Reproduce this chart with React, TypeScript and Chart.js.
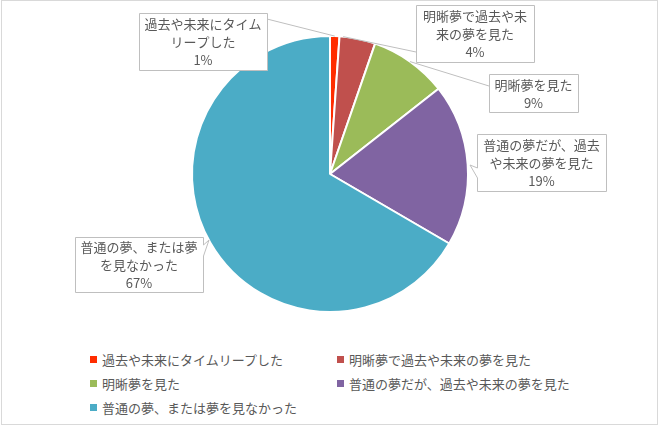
import { useEffect, useRef } from "react";
import { Chart, registerables } from "chart.js";

Chart.register(...registerables);

// categorias e valores (%)
const categories = [
  "過去や未来にタイムリープした",
  "明晰夢で過去や未来の夢を見た",
  "明晰夢を見た",
  "普通の夢だが、過去や未来の夢を見た",
  "普通の夢、または夢を見なかった",
];
const values = [1.1, 4.2, 9.1, 19.0, 66.6];
const colors = ["#FF2D00", "#C0504D", "#9BBB59", "#8064A2", "#4BACC6"];
// quebras de linha das etiquetas
const labelLines = [
  ["過去や未来にタイム", "リープした"],
  ["明晰夢で過去や未", "来の夢を見た"],
  ["明晰夢を見た"],
  ["普通の夢だが、過去", "や未来の夢を見た"],
  ["普通の夢、または夢", "を見なかった"],
];

const FONT = '"Noto Sans CJK JP", "Noto Sans", sans-serif';
const TEXT = "#595959";

// caixas das etiquetas (coordenadas do canvas)
const boxes = [
  { x: 139, y: 13, w: 128, h: 57, kind: "line", ax: 267, ay: 19, frac: 0.5 },
  { x: 416, y: 5, w: 118, h: 57, kind: "line", ax: 416, ay: 52, frac: 0.1 },
  { x: 489, y: 74, w: 89, h: 38, kind: "line", ax: 489, ay: 86, frac: 0.5 },
  { x: 477, y: 134, w: 129, h: 57, kind: "left", tx: 470, ty: 165, b1: 168, b2: 178 },
  { x: 75, y: 237, w: 128, h: 55, kind: "right", tx: 209, ty: 240, b1: 245, b2: 256 },
];

const calloutPlugin = {
  id: "callouts",
  afterDatasetsDraw(chart: any) {
    const ctx = chart.ctx;
    const meta = chart.getDatasetMeta(0);
    const total = values.reduce((a, b) => a + b, 0);
    ctx.save();
    ctx.strokeStyle = "#BFBFBF";
    ctx.lineWidth = 1;
    boxes.forEach((b: any, i) => {
      const arc = meta.data[i];
      // linha guia
      if (b.kind === "line") {
        const ang = arc.startAngle + (arc.endAngle - arc.startAngle) * b.frac;
        const px = arc.x + Math.cos(ang) * arc.outerRadius;
        const py = arc.y + Math.sin(ang) * arc.outerRadius;
        ctx.beginPath();
        ctx.moveTo(px, py);
        ctx.lineTo(b.ax, b.ay);
        ctx.stroke();
      }
      // caixa
      ctx.fillStyle = "#FFFFFF";
      ctx.beginPath();
      const x0 = b.x + 0.5, y0 = b.y + 0.5, x1 = b.x + b.w + 0.5, y1 = b.y + b.h + 0.5;
      ctx.moveTo(x0, y0);
      ctx.lineTo(x1, y0);
      if (b.kind === "right") {
        ctx.lineTo(x1, b.b1);
        ctx.lineTo(b.tx, b.ty);
        ctx.lineTo(x1, b.b2);
      }
      ctx.lineTo(x1, y1);
      ctx.lineTo(x0, y1);
      if (b.kind === "left") {
        ctx.lineTo(x0, b.b2);
        ctx.lineTo(b.tx, b.ty);
        ctx.lineTo(x0, b.b1);
      }
      ctx.closePath();
      ctx.fill();
      ctx.stroke();
      // texto
      const lines = [...labelLines[i], Math.round((values[i] / total) * 100) + "%"];
      const lh = 18;
      ctx.fillStyle = TEXT;
      ctx.font = "13px " + FONT;
      ctx.textAlign = "center";
      ctx.textBaseline = "middle";
      const startY = b.y + (b.h - lines.length * lh) / 2 + lh / 2 + 1;
      lines.forEach((t, j) => ctx.fillText(t, b.x + b.w / 2, startY + j * lh));
    });
    ctx.restore();
  },
};

const legendPos = [
  { x: 90, y: 359 },
  { x: 337, y: 359 },
  { x: 90, y: 383 },
  { x: 337, y: 383 },
  { x: 90, y: 407 },
];

export default function App() {
  const chartRef = useRef<HTMLCanvasElement | null>(null);
  const chartInstanceRef = useRef<Chart | null>(null);

  useEffect(() => {
    document.body.style.margin = "0";
    if (chartInstanceRef.current) chartInstanceRef.current.destroy();
    if (chartRef.current) {
      chartInstanceRef.current = new Chart(chartRef.current, {
        type: "pie",
        data: {
          labels: categories,
          datasets: [
            {
              data: values,
              backgroundColor: colors,
              borderColor: "#FFFFFF",
              borderWidth: 2,
            },
          ],
        },
        options: {
          animation: false,
          responsive: false,
          devicePixelRatio: 1,
          layout: { padding: { top: 35, bottom: 27, left: 0, right: 1 } },
          plugins: {
            legend: { display: false },
            tooltip: { enabled: false },
          },
        },
        plugins: [calloutPlugin],
      });
    }
    return () => {
      if (chartInstanceRef.current) {
        chartInstanceRef.current.destroy();
        chartInstanceRef.current = null;
      }
    };
  }, []);

  return (
    <div style={{ position: "relative", width: 661, height: 426, background: "#fff", fontFamily: FONT }}>
      <canvas ref={chartRef} width={661} height={340} style={{ position: "absolute", left: 0, top: 0 }}></canvas>
      {/* legenda */}
      {categories.map((c, i) => (
        <div
          key={c}
          style={{
            position: "absolute",
            left: legendPos[i].x,
            top: legendPos[i].y - 10,
            height: 20,
            display: "flex",
            alignItems: "center",
            fontSize: 13,
            color: TEXT,
            whiteSpace: "nowrap",
          }}
        >
          <span style={{ width: 7, height: 7, background: colors[i], marginRight: 5, display: "inline-block" }}></span>
          {c}
        </div>
      ))}
      <div
        style={{
          position: "absolute",
          left: 1,
          top: 0,
          width: 657,
          height: 425,
          border: "1px solid #D9D9D9",
          boxSizing: "border-box",
          pointerEvents: "none",
        }}
      ></div>
    </div>
  );
}
